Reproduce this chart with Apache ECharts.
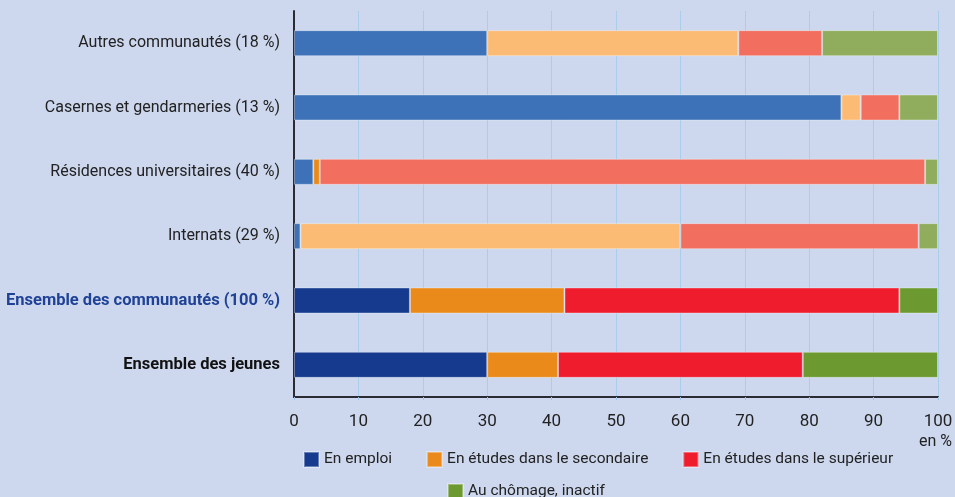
<!DOCTYPE html>
<html>
<head>
<meta charset="utf-8">
<script src="https://cdn.jsdelivr.net/npm/echarts@6/dist/echarts.min.js"></script>
<style>
  html, body { margin: 0; padding: 0; background: #cdd8ee; }
</style>
</head>
<body>
<div id="chart" style="width:955px;height:497px"></div>
<script>
    // catégories, de haut en bas
    const categories = ['Autres communautés (18 %)', 'Casernes et gendarmeries (13 %)', 'Résidences universitaires (40 %)', 'Internats (29 %)', 'Ensemble des communautés (100 %)', 'Ensemble des jeunes']
    const seriesNames = ['En emploi', 'En études dans le secondaire', 'En études dans le supérieur', 'Au chômage, inactif']
    const emploi = [30, 85, 3, 1, 18, 30]
    const secondaire = [39, 3, 1, 59, 24, 11]
    const superieur = [13, 6, 94, 37, 52, 38]
    const chomage = [18, 6, 2, 3, 6, 21]
    const xTicks = [0, 10, 20, 30, 40, 50, 60, 70, 80, 90, 100]

    const darkColors = ['#163b8e', '#ea8a1a', '#ee1c2d', '#6c9a30']
    const lightColors = ['#3d72b8', '#fcbb75', '#f26f5f', '#8fad5c']
    const font = "Roboto, sans-serif"

    function toData(values, s) {
        return values.map(function (v, i) {
            // les 4 premières lignes en couleurs claires
            let light = i < 4 && !(i === 2 && s === 1)
            return { value: v, itemStyle: { color: light ? lightColors[s] : darkColors[s] } }
        })
    }

    const chart = echarts.init(document.getElementById('chart'))
    let option = {
        backgroundColor: '#cdd8ee',
        animation: false,
        textStyle: { fontFamily: font },
        grid: { left: 294, right: 17, top: 11, bottom: 100, containLabel: false, outerBoundsMode: 'none' },
        legend: [{
            data: seriesNames.slice(0, 3),
            left: 298, top: 446,
            itemWidth: 15, itemHeight: 15, itemGap: 34,
            icon: 'rect',
            textStyle: { fontFamily: font, fontSize: 15.5, color: '#222' }
        }, {
            data: seriesNames.slice(3),
            left: 442, top: 478,
            itemWidth: 15, itemHeight: 15,
            icon: 'rect',
            textStyle: { fontFamily: font, fontSize: 15.5, color: '#222' }
        }],
        graphic: [{
            type: 'text', right: 3, top: 434,
            style: { text: 'en %', font: '16px ' + font, fill: '#222' }
        }],
        xAxis: {
            type: 'value', min: 0, max: 100, interval: 10,
            axisLine: { show: true, lineStyle: { color: '#2b2b33', width: 2 } },
            axisTick: { show: true, length: 3, lineStyle: { color: '#9fc3e6' } },
            axisLabel: {
                fontFamily: font, fontSize: 17, color: '#222', margin: 16,
                formatter: function (v) { return xTicks.indexOf(v) >= 0 ? String(v) : '' }
            },
            splitLine: { show: true, lineStyle: { color: '#aacde9', width: 1 } }
        },
        yAxis: {
            type: 'category', inverse: true, data: categories,
            axisLine: { show: true, lineStyle: { color: '#2b2b33', width: 2 } },
            axisTick: { show: false },
            axisLabel: {
                margin: 14, fontFamily: font, fontSize: 16, color: '#222',
                formatter: function (v, i) {
                    if (i === 4) return '{blue|' + v + '}'
                    if (i === 5) return '{bold|' + v + '}'
                    return v
                },
                rich: {
                    blue: { fontFamily: font, fontSize: 16.5, fontWeight: 'bold', color: '#1f4296' },
                    bold: { fontFamily: font, fontSize: 16.5, fontWeight: 'bold', color: '#111' }
                }
            }
        },
        series: [emploi, secondaire, superieur, chomage].map(function (vals, s) {
            return {
                name: seriesNames[s],
                type: 'bar',
                stack: 'total',
                barWidth: 26,
                itemStyle: { color: darkColors[s], borderColor: 'rgba(255,255,255,0.35)', borderWidth: 1 },
                data: toData(vals, s)
            }
        })
    }
    chart.setOption(option)
</script>
</body>
</html>
